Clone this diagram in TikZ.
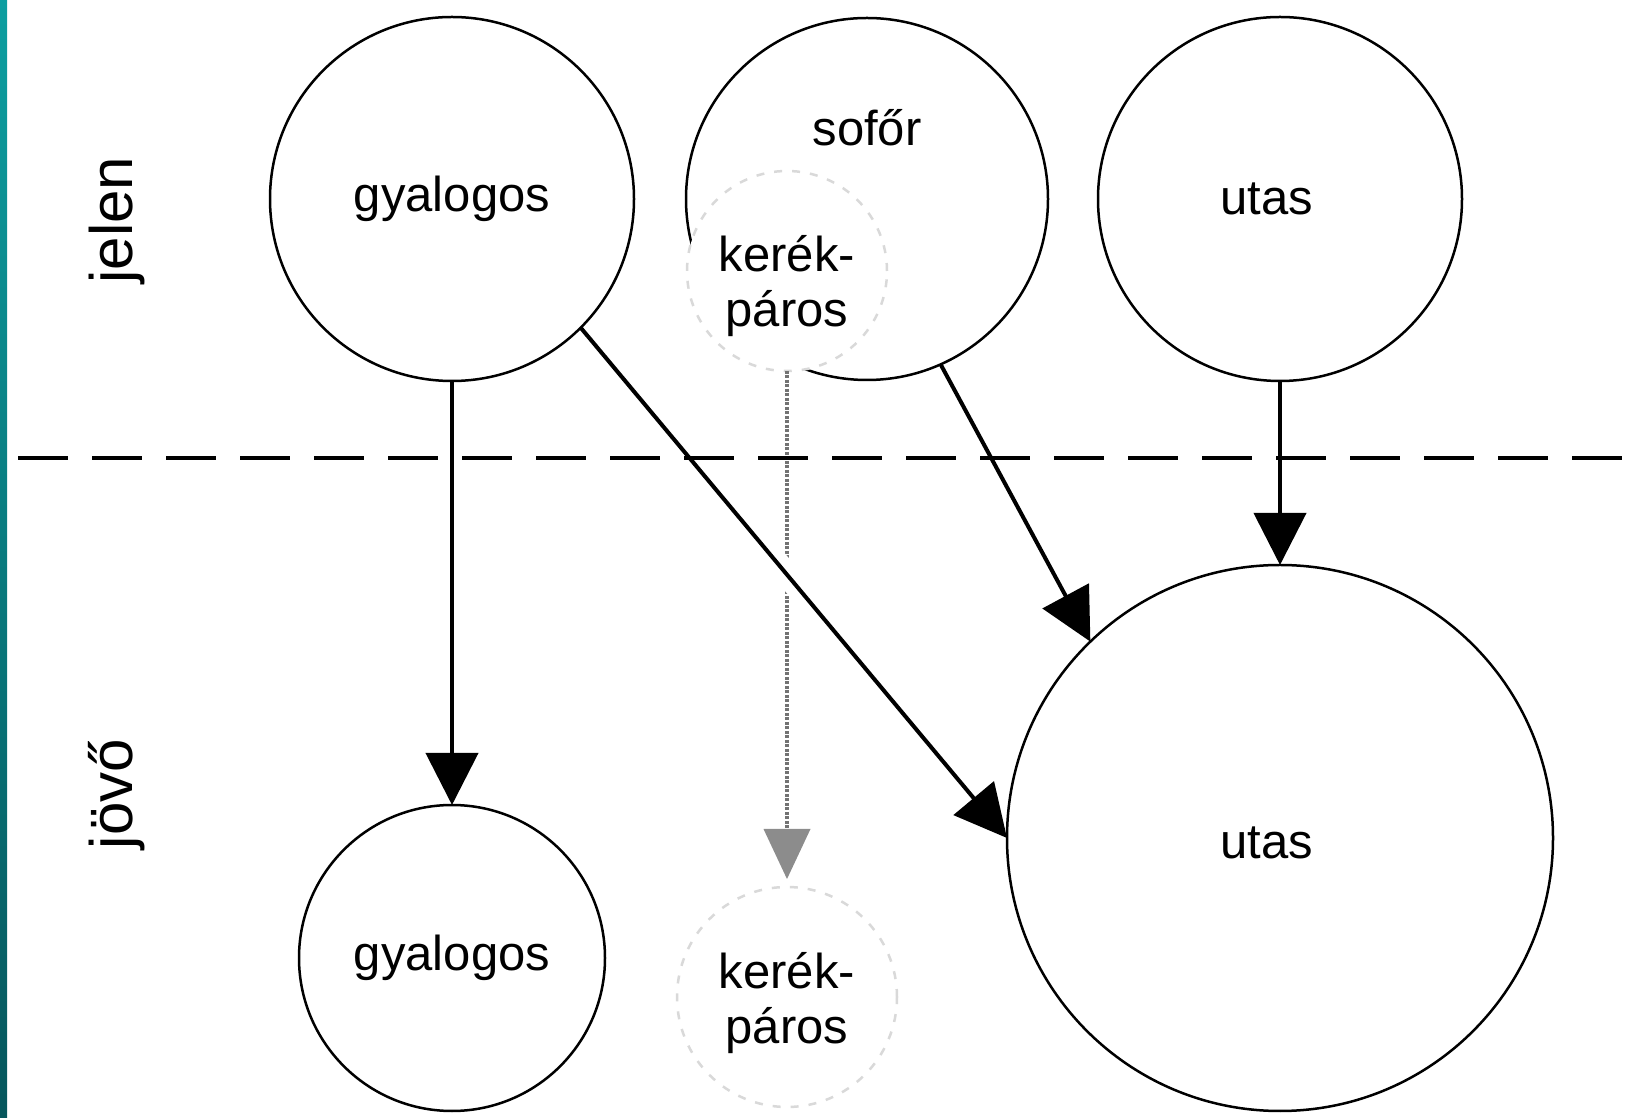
\documentclass[tikz,border=0pt]{standalone}
\usepackage{fontspec}
\setmainfont{Liberation Sans}
\usepackage{tikz}
\usetikzlibrary{calc, arrows.meta}
\definecolor{barTop}{RGB}{12,158,160}
\definecolor{barBot}{RGB}{6,86,92}
\tikzstyle{grp}=[draw, circle, line width=2.5pt, inner sep=0pt, outer sep=0pt, align=center, font=\fontsize{49}{55}\selectfont]
\tikzstyle{faint}=[grp, draw=black!15, dash pattern=on 8pt off 10pt, fill=white]
\tikzstyle{era}=[rotate=90, anchor=base, font=\fontsize{60}{70}\selectfont]

\begin{document}
\begin{tikzpicture}[x=1pt, y=1pt, >={Triangle[length=52pt, width=52pt]}]
      \useasboundingbox (0,0) rectangle (1642,1117);
      \shade[top color=barTop, bottom color=barBot] (0,0) rectangle (7,1117);

      % present
      \node [grp, minimum size=364] (gyal1) at (452,918) {gyalogos};
      \node [grp, minimum size=362] (sofor) [right of=gyal1, node distance=415] {};
      \node [grp, minimum size=364] (utas1) [right of=sofor, node distance=413] {};
      \node [faint, minimum size=200] (kerek1) at (787,846) {};

      % future
      \node [grp, minimum size=306] (gyal2) [below of=gyal1, node distance=759] {gyalogos};
      \node [grp, minimum size=546] (utas2) [below of=utas1, node distance=639] {};
      \node [faint, minimum size=220] (kerek2) [below of=kerek1, node distance=726] {};

      \node [font=\fontsize{49}{55}\selectfont, yshift=71pt] (soforT) at (sofor) {sofőr};
      \node [font=\fontsize{49}{55}\selectfont, xshift=-13pt] (utas1T) at (utas1) {utas};
      \node [font=\fontsize{49}{55}\selectfont, xshift=-13pt, yshift=-5pt] (utas2T) at (utas2) {utas};
      \node [font=\fontsize{49}{55}\selectfont, align=center, yshift=-15pt] (kerek1T) at (kerek1) {kerék-\\páros};
      \node [font=\fontsize{49}{55}\selectfont, align=center, yshift=-6pt] (kerek2T) at (kerek2) {kerék-\\páros};

      \node [era] (jelen) at (132,897) {jelen};
      \node [era] (jovo) at (132,323) {jövő};

      \path[->, draw=black!55, line width=3.5pt, dash pattern=on 3pt off 1.5pt,
            >={Triangle[length=50pt, width=47pt, fill=black!45, line width=0pt]}, shorten >=8pt]
            (kerek1) edge node {} (kerek2);

      \path[->, line width=4pt] (gyal1) edge node {} (gyal2);
      \draw[->, line width=4pt,
            preaction={draw=white, line width=24pt, -, shorten <=280pt, shorten >=300pt}]
            (gyal1.-45) -- (utas2.180);
      \path[->, line width=4pt] (sofor.-66) edge node {} (utas2.134);
      \path[->, line width=4pt] (utas1) edge node {} (utas2);

      \coordinate (sepL) at (18,659);
      \coordinate (sepR) at (1642,659);
      \draw[line width=4pt, dash pattern=on 50pt off 24pt] (sepL) -- (sepR);
\end{tikzpicture}
\end{document}
